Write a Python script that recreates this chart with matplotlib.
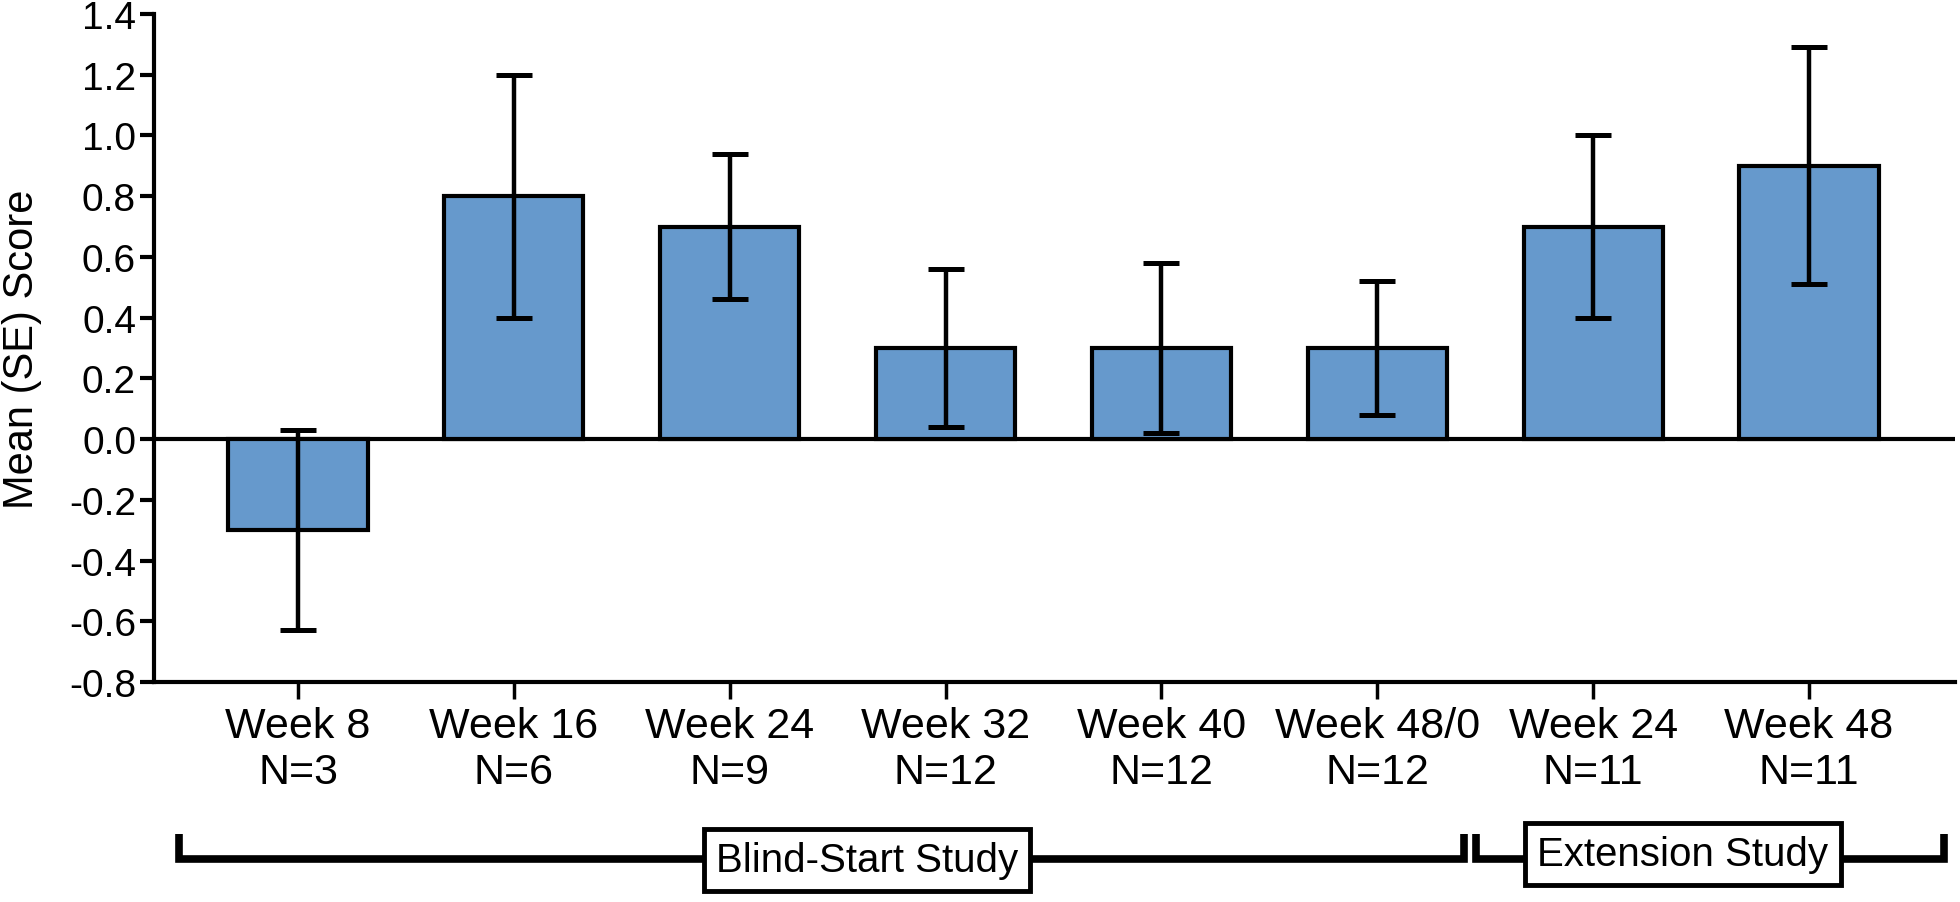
import numpy as np
import matplotlib
matplotlib.use("Agg")
import matplotlib.pyplot as plt
from matplotlib.transforms import blended_transform_factory

plt.rcParams['font.family'] = ['Liberation Sans', 'DejaVu Sans']
plt.rcParams['axes.unicode_minus'] = False

# values
weeks = ['Week 8', 'Week 16', 'Week 24', 'Week 32', 'Week 40', 'Week 48/0', 'Week 24', 'Week 48']
n_counts = [3, 6, 9, 12, 12, 12, 11, 11]
means = [-0.3, 0.8, 0.7, 0.3, 0.3, 0.3, 0.7, 0.9]
se = [0.33, 0.40, 0.24, 0.26, 0.28, 0.22, 0.30, 0.39]

groups = ['Blind-Start Study', 'Extension Study']
group_members = [[0, 1, 2, 3, 4, 5], [6, 7]]

bar_color = '#6699cc'

fig = plt.figure(figsize=(19.6, 9.03), dpi=100)
ax = fig.add_axes([0.0786, 0.2436, 0.9188, 0.7398])

x = np.arange(len(weeks))
ax.axhline(0, color='black', lw=3, zorder=1)
ax.bar(x, means, width=0.645, color=bar_color, edgecolor='black', linewidth=3, zorder=2)
ax.errorbar(x, means, yerr=se, fmt='none', ecolor='black', elinewidth=3.2,
            capsize=13, capthick=3.6, zorder=3)

ax.set_xlim(-0.667, 7.676)
ax.set_ylim(-0.8, 1.4)
yticks = np.round(np.arange(-0.8, 1.41, 0.2), 1) + 0.0
ax.set_yticks(yticks)
ax.set_yticklabels([f'{v:.1f}' for v in yticks], fontsize=28)
ax.set_xticks(x)
ax.set_xticklabels([f'{w}\nN={n}' for w, n in zip(weeks, n_counts)], fontsize=31)

ax.tick_params(axis='y', direction='out', length=10, width=3, pad=3)
ax.tick_params(axis='x', direction='out', length=12, width=2.5, pad=5)

for side in ['top', 'right']:
    ax.spines[side].set_visible(False)
for side in ['left', 'bottom']:
    ax.spines[side].set_linewidth(3)

ax.set_ylabel('Mean (SE) Score', fontsize=30)
ax.yaxis.set_label_coords(-0.062, 0.5)

# group brackets under the axis
trans = blended_transform_factory(ax.transData, ax.transAxes)
y_line = -0.265
y_top = -0.2275
left_off = [-0.551, -0.543]
right_off = [0.402, 0.625]
label_x = [2.636, 6.416]
label_y = [-0.266, -0.257]
for i, members in enumerate(group_members):
    x0 = members[0] + left_off[i]
    x1 = members[-1] + right_off[i]
    ax.plot([x0, x0, x1, x1], [y_top, y_line, y_line, y_top], color='black', lw=5.5,
            transform=trans, clip_on=False, solid_joinstyle='miter', solid_capstyle='butt')
    ax.text(label_x[i], label_y[i], groups[i], transform=trans, fontsize=29,
            ha='center', va='center', clip_on=False,
            bbox=dict(boxstyle='square,pad=0.3', facecolor='white', edgecolor='black', linewidth=3.5))

fig.savefig('out.png', dpi=100)
